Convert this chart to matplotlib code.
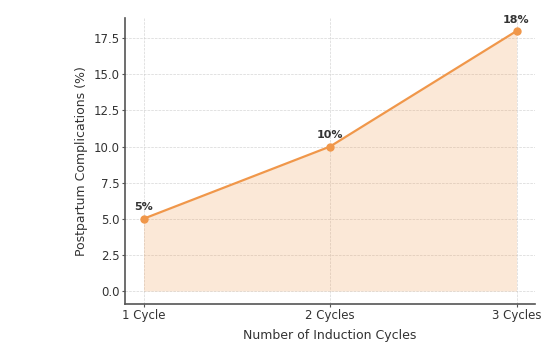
import matplotlib
matplotlib.use("Agg")
import matplotlib.pyplot as plt

# induction cycles vs postpartum complication rate
cycles = ["1 Cycle", "2 Cycles", "3 Cycles"]
complications = [5, 10, 18]
labels = ["5%", "10%", "18%"]

orange = "#F0974A"

fig = plt.figure(figsize=(5.5, 3.47), dpi=100)
ax = fig.add_axes([0.227, 0.124, 0.746, 0.824])

x = list(range(len(cycles)))
ax.fill_between(x, complications, color=orange, alpha=0.22, linewidth=0)
ax.plot(x, complications, color=orange, marker="o", markersize=5, linewidth=1.6)

for xi, yi, lab in zip(x, complications, labels):
    ax.annotate(lab, (xi, yi), textcoords="offset points", xytext=(0, 6),
                ha="center", fontsize=8, fontweight="bold", color="#333333")

ax.set_xticks(x)
ax.set_xticklabels(cycles)
ax.set_yticks([0, 2.5, 5, 7.5, 10, 12.5, 15, 17.5])
ax.set_xlabel("Number of Induction Cycles", fontsize=9, color="#333333", labelpad=5)
ax.set_ylabel("Postpartum Complications (%)", fontsize=9, color="#333333", labelpad=4)
ax.tick_params(labelsize=8.5, colors="#333333", length=2, pad=1.5)
ax.tick_params(color="#555555")

ax.grid(True, linestyle="--", linewidth=0.5, color="#cccccc", alpha=0.8)
ax.set_axisbelow(True)
for side in ["top", "right"]:
    ax.spines[side].set_visible(False)
for side in ["left", "bottom"]:
    ax.spines[side].set_color("#555555")
    ax.spines[side].set_linewidth(1.2)

fig.savefig("out.png", dpi=100)
